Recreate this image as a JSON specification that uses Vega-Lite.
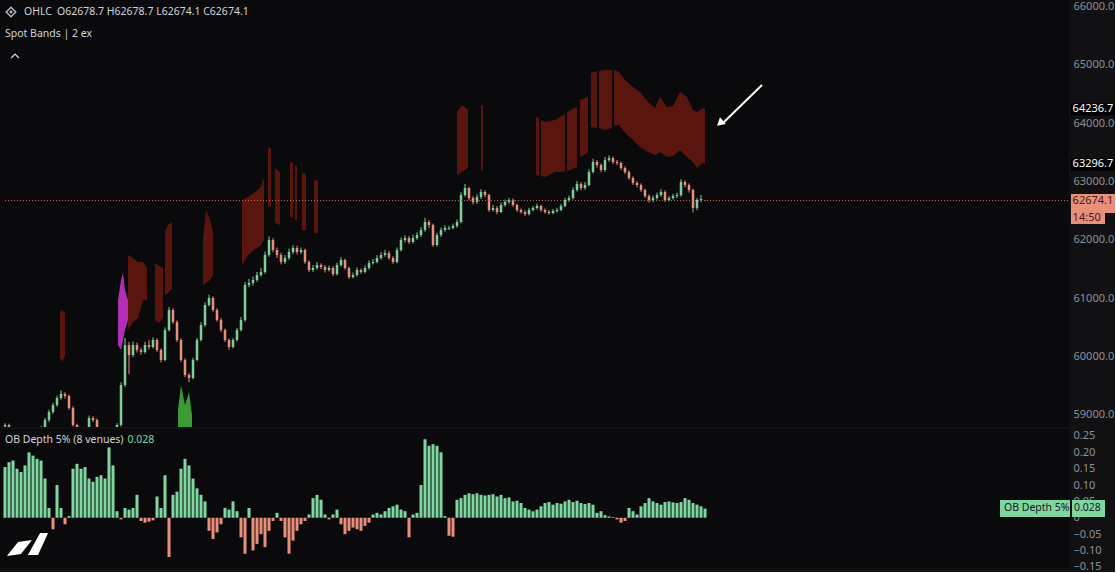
{
"$schema": "https://vega.github.io/schema/vega-lite/v6.json",
"background": "#111114",
"padding": 0,
"spacing": 2,
"config": {
  "view": {"stroke": null, "fill": "#0a0a0c"},
  "axisX": {"disable": true},
  "axis": {"domain": false, "ticks": false, "grid": false, "labelColor": "#909094", "labelFont": "Noto Sans", "labelFontSize": 11, "labelPadding": 4, "labelOverlap": false, "labelSeparation": 0, "title": null, "labelLimit": 50}
},
"datasets": {
"one": [{}],
"ohlc": [
{"t":0,"o":58800,"h":58860,"l":58780,"c":58828},
{"t":1,"o":58828,"h":58850,"l":58540,"c":58571},
{"t":2,"o":58571,"h":58600,"l":58370,"c":58399},
{"t":3,"o":58399,"h":58420,"l":58290,"c":58314},
{"t":4,"o":58314,"h":58390,"l":58290,"c":58365},
{"t":5,"o":58365,"h":58460,"l":58340,"c":58433},
{"t":6,"o":58433,"h":58510,"l":58410,"c":58485},
{"t":7,"o":58485,"h":58600,"l":58460,"c":58571},
{"t":8,"o":58571,"h":58690,"l":58550,"c":58656},
{"t":9,"o":58656,"h":58810,"l":58630,"c":58776},
{"t":10,"o":58776,"h":58950,"l":58750,"c":58914},
{"t":11,"o":58914,"h":59090,"l":58880,"c":59050},
{"t":12,"o":59050,"h":59210,"l":59020,"c":59170},
{"t":13,"o":59170,"h":59330,"l":59140,"c":59290},
{"t":14,"o":59290,"h":59420,"l":59260,"c":59359},
{"t":15,"o":59359,"h":59390,"l":59280,"c":59325},
{"t":16,"o":59325,"h":59350,"l":59090,"c":59119},
{"t":17,"o":59119,"h":59150,"l":58800,"c":58828},
{"t":18,"o":58828,"h":58850,"l":58620,"c":58656},
{"t":19,"o":58656,"h":58690,"l":58540,"c":58571},
{"t":20,"o":58571,"h":58770,"l":58550,"c":58742},
{"t":21,"o":58742,"h":58990,"l":58720,"c":58948},
{"t":22,"o":58948,"h":58980,"l":58880,"c":58914},
{"t":23,"o":58914,"h":58940,"l":58710,"c":58742},
{"t":24,"o":58742,"h":58760,"l":58460,"c":58485},
{"t":25,"o":58485,"h":58510,"l":58370,"c":58399},
{"t":26,"o":58399,"h":58460,"l":58380,"c":58433},
{"t":27,"o":58433,"h":58600,"l":58410,"c":58571},
{"t":28,"o":58571,"h":58860,"l":58550,"c":58828},
{"t":29,"o":58828,"h":59560,"l":58800,"c":59513},
{"t":30,"o":59513,"h":60320,"l":59480,"c":60198},
{"t":31,"o":60198,"h":60250,"l":59700,"c":60027},
{"t":32,"o":60027,"h":60260,"l":59990,"c":60198},
{"t":33,"o":60198,"h":60240,"l":60070,"c":60113},
{"t":34,"o":60113,"h":60150,"l":60030,"c":60079},
{"t":35,"o":60079,"h":60250,"l":60050,"c":60198},
{"t":36,"o":60198,"h":60280,"l":60120,"c":60164},
{"t":37,"o":60164,"h":60330,"l":60140,"c":60284},
{"t":38,"o":60284,"h":60310,"l":60080,"c":60113},
{"t":39,"o":60113,"h":60140,"l":59900,"c":59942},
{"t":40,"o":59942,"h":60500,"l":59920,"c":60456},
{"t":41,"o":60456,"h":60850,"l":60430,"c":60799},
{"t":42,"o":60799,"h":60830,"l":60560,"c":60593},
{"t":43,"o":60593,"h":60620,"l":60250,"c":60284},
{"t":44,"o":60284,"h":60310,"l":59910,"c":59942},
{"t":45,"o":59942,"h":59970,"l":59650,"c":59685},
{"t":46,"o":59685,"h":59720,"l":59560,"c":59633},
{"t":47,"o":59633,"h":59980,"l":59610,"c":59942},
{"t":48,"o":59942,"h":60320,"l":59920,"c":60284},
{"t":49,"o":60284,"h":60590,"l":60260,"c":60541},
{"t":50,"o":60541,"h":60930,"l":60510,"c":60884},
{"t":51,"o":60884,"h":61060,"l":60860,"c":61004},
{"t":52,"o":61004,"h":61030,"l":60770,"c":60799},
{"t":53,"o":60799,"h":60830,"l":60600,"c":60627},
{"t":54,"o":60627,"h":60660,"l":60420,"c":60456},
{"t":55,"o":60456,"h":60480,"l":60250,"c":60284},
{"t":56,"o":60284,"h":60310,"l":60120,"c":60164},
{"t":57,"o":60164,"h":60320,"l":60140,"c":60284},
{"t":58,"o":60284,"h":60490,"l":60260,"c":60456},
{"t":59,"o":60456,"h":60680,"l":60430,"c":60627},
{"t":60,"o":60627,"h":61280,"l":60600,"c":61227},
{"t":61,"o":61227,"h":61330,"l":61190,"c":61261},
{"t":62,"o":61261,"h":61370,"l":61220,"c":61313},
{"t":63,"o":61313,"h":61450,"l":61280,"c":61398},
{"t":64,"o":61398,"h":61520,"l":61370,"c":61450},
{"t":65,"o":61450,"h":61800,"l":61420,"c":61741},
{"t":66,"o":61741,"h":62060,"l":61710,"c":61998},
{"t":67,"o":61998,"h":62030,"l":61790,"c":61827},
{"t":68,"o":61827,"h":61870,"l":61690,"c":61741},
{"t":69,"o":61741,"h":61780,"l":61580,"c":61621},
{"t":70,"o":61621,"h":61740,"l":61590,"c":61690},
{"t":71,"o":61690,"h":61850,"l":61660,"c":61793},
{"t":72,"o":61793,"h":61910,"l":61760,"c":61861},
{"t":73,"o":61861,"h":61900,"l":61750,"c":61793},
{"t":74,"o":61793,"h":61870,"l":61760,"c":61827},
{"t":75,"o":61827,"h":61850,"l":61590,"c":61621},
{"t":76,"o":61621,"h":61650,"l":61450,"c":61484},
{"t":77,"o":61484,"h":61570,"l":61450,"c":61518},
{"t":78,"o":61518,"h":61620,"l":61490,"c":61570},
{"t":79,"o":61570,"h":61600,"l":61500,"c":61535},
{"t":80,"o":61535,"h":61570,"l":61440,"c":61484},
{"t":81,"o":61484,"h":61560,"l":61460,"c":61518},
{"t":82,"o":61518,"h":61550,"l":61380,"c":61415},
{"t":83,"o":61415,"h":61610,"l":61390,"c":61570},
{"t":84,"o":61570,"h":61700,"l":61540,"c":61655},
{"t":85,"o":61655,"h":61680,"l":61490,"c":61518},
{"t":86,"o":61518,"h":61540,"l":61330,"c":61364},
{"t":87,"o":61364,"h":61440,"l":61340,"c":61398},
{"t":88,"o":61398,"h":61530,"l":61370,"c":61484},
{"t":89,"o":61484,"h":61510,"l":61420,"c":61450},
{"t":90,"o":61450,"h":61560,"l":61430,"c":61518},
{"t":91,"o":61518,"h":61650,"l":61490,"c":61604},
{"t":92,"o":61604,"h":61670,"l":61580,"c":61621},
{"t":93,"o":61621,"h":61740,"l":61600,"c":61690},
{"t":94,"o":61690,"h":61790,"l":61660,"c":61741},
{"t":95,"o":61741,"h":61830,"l":61710,"c":61775},
{"t":96,"o":61775,"h":61810,"l":61660,"c":61690},
{"t":97,"o":61690,"h":61720,"l":61590,"c":61621},
{"t":98,"o":61621,"h":61870,"l":61600,"c":61827},
{"t":99,"o":61827,"h":62040,"l":61800,"c":61998},
{"t":100,"o":61998,"h":62080,"l":61960,"c":62032},
{"t":101,"o":62032,"h":62070,"l":61930,"c":61964},
{"t":102,"o":61964,"h":62090,"l":61940,"c":62032},
{"t":103,"o":62032,"h":62130,"l":62000,"c":62084},
{"t":104,"o":62084,"h":62220,"l":62050,"c":62170},
{"t":105,"o":62170,"h":62380,"l":62140,"c":62307},
{"t":106,"o":62307,"h":62340,"l":62200,"c":62255},
{"t":107,"o":62255,"h":62280,"l":61880,"c":61913},
{"t":108,"o":61913,"h":62120,"l":61890,"c":62084},
{"t":109,"o":62084,"h":62210,"l":62050,"c":62170},
{"t":110,"o":62170,"h":62250,"l":62140,"c":62204},
{"t":111,"o":62190,"h":62240,"l":62170,"c":62204},
{"t":112,"o":62204,"h":62280,"l":62180,"c":62238},
{"t":113,"o":62238,"h":62350,"l":62210,"c":62307},
{"t":114,"o":62307,"h":62820,"l":62280,"c":62769},
{"t":115,"o":62769,"h":62960,"l":62740,"c":62889},
{"t":116,"o":62889,"h":62910,"l":62680,"c":62718},
{"t":117,"o":62718,"h":62750,"l":62610,"c":62649},
{"t":118,"o":62649,"h":62780,"l":62620,"c":62735},
{"t":119,"o":62735,"h":62870,"l":62700,"c":62821},
{"t":120,"o":62821,"h":62850,"l":62730,"c":62769},
{"t":121,"o":62769,"h":62790,"l":62480,"c":62512},
{"t":122,"o":62512,"h":62600,"l":62490,"c":62546},
{"t":123,"o":62546,"h":62580,"l":62440,"c":62478},
{"t":124,"o":62478,"h":62640,"l":62460,"c":62598},
{"t":125,"o":62598,"h":62690,"l":62570,"c":62649},
{"t":126,"o":62649,"h":62720,"l":62620,"c":62684},
{"t":127,"o":62684,"h":62710,"l":62570,"c":62598},
{"t":128,"o":62598,"h":62620,"l":62480,"c":62512},
{"t":129,"o":62512,"h":62540,"l":62450,"c":62478},
{"t":130,"o":62478,"h":62510,"l":62410,"c":62444},
{"t":131,"o":62444,"h":62550,"l":62420,"c":62512},
{"t":132,"o":62512,"h":62580,"l":62490,"c":62546},
{"t":133,"o":62546,"h":62620,"l":62520,"c":62581},
{"t":134,"o":62581,"h":62600,"l":62480,"c":62512},
{"t":135,"o":62512,"h":62540,"l":62450,"c":62478},
{"t":136,"o":62478,"h":62510,"l":62430,"c":62461},
{"t":137,"o":62461,"h":62530,"l":62440,"c":62495},
{"t":138,"o":62495,"h":62550,"l":62470,"c":62512},
{"t":139,"o":62512,"h":62620,"l":62490,"c":62581},
{"t":140,"o":62581,"h":62720,"l":62560,"c":62684},
{"t":141,"o":62684,"h":62760,"l":62650,"c":62718},
{"t":142,"o":62718,"h":62900,"l":62690,"c":62855},
{"t":143,"o":62855,"h":63010,"l":62830,"c":62958},
{"t":144,"o":62958,"h":62990,"l":62850,"c":62889},
{"t":145,"o":62889,"h":62990,"l":62860,"c":62941},
{"t":146,"o":62941,"h":63210,"l":62920,"c":63163},
{"t":147,"o":63163,"h":63390,"l":63140,"c":63335},
{"t":148,"o":63335,"h":63370,"l":63240,"c":63283},
{"t":149,"o":63283,"h":63310,"l":63160,"c":63198},
{"t":150,"o":63198,"h":63420,"l":63170,"c":63369},
{"t":151,"o":63369,"h":63450,"l":63340,"c":63403},
{"t":152,"o":63403,"h":63430,"l":63300,"c":63335},
{"t":153,"o":63335,"h":63370,"l":63280,"c":63318},
{"t":154,"o":63318,"h":63340,"l":63200,"c":63232},
{"t":155,"o":63232,"h":63260,"l":63130,"c":63163},
{"t":156,"o":63163,"h":63190,"l":63030,"c":63061},
{"t":157,"o":63061,"h":63090,"l":62940,"c":62975},
{"t":158,"o":62975,"h":63010,"l":62900,"c":62941},
{"t":159,"o":62941,"h":62970,"l":62820,"c":62855},
{"t":160,"o":62855,"h":62880,"l":62720,"c":62752},
{"t":161,"o":62752,"h":62780,"l":62640,"c":62684},
{"t":162,"o":62684,"h":62760,"l":62650,"c":62718},
{"t":163,"o":62718,"h":62810,"l":62690,"c":62769},
{"t":164,"o":62769,"h":62870,"l":62740,"c":62821},
{"t":165,"o":62821,"h":62850,"l":62650,"c":62684},
{"t":166,"o":62684,"h":62750,"l":62660,"c":62718},
{"t":167,"o":62718,"h":62790,"l":62690,"c":62752},
{"t":168,"o":62752,"h":62810,"l":62720,"c":62769},
{"t":169,"o":62769,"h":63040,"l":62740,"c":62992},
{"t":170,"o":62992,"h":63020,"l":62900,"c":62941},
{"t":171,"o":62941,"h":62970,"l":62810,"c":62855},
{"t":172,"o":62855,"h":62880,"l":62470,"c":62546},
{"t":173,"o":62546,"h":62720,"l":62510,"c":62684},
{"t":174,"o":62684,"h":62770,"l":62650,"c":62700},
{"t":175,"o":62678.7,"h":62678.7,"l":62674.1,"c":62674.1}
],
"bands": [
{"s":"r1","k":"red","t":13.75,"hi":60764,"lo":59976},
{"s":"r1","k":"red","t":14.25,"hi":60799,"lo":59907},
{"s":"r1","k":"red","t":15,"hi":60747,"lo":60010},
{"s":"m1","k":"magenta","t":28.25,"hi":60970,"lo":60199},
{"s":"m1","k":"magenta","t":29,"hi":61313,"lo":60113},
{"s":"m1","k":"magenta","t":29.5,"hi":61433,"lo":60284},
{"s":"m1","k":"magenta","t":30,"hi":61141,"lo":60456},
{"s":"m1","k":"magenta","t":30.75,"hi":60970,"lo":60627},
{"s":"r2","k":"red","t":30.75,"hi":61741,"lo":60456},
{"s":"r2","k":"red","t":32,"hi":61690,"lo":60593},
{"s":"r2","k":"red","t":33.25,"hi":61621,"lo":60662},
{"s":"r2","k":"red","t":34.5,"hi":61621,"lo":60970},
{"s":"r2","k":"red","t":35.5,"hi":61518,"lo":60970},
{"s":"r3","k":"red","t":37.5,"hi":61604,"lo":60627},
{"s":"r3","k":"red","t":38.5,"hi":61553,"lo":60576},
{"s":"r3","k":"red","t":39.5,"hi":61518,"lo":60662},
{"s":"r4","k":"red","t":40,"hi":62135,"lo":61056},
{"s":"r4","k":"red","t":40.75,"hi":62255,"lo":61090},
{"s":"r4","k":"red","t":41.75,"hi":62307,"lo":61176},
{"s":"g1","k":"green","t":43.25,"hi":59085,"lo":58600},
{"s":"g1","k":"green","t":44,"hi":59513,"lo":58600},
{"s":"g1","k":"green","t":45,"hi":59171,"lo":58600},
{"s":"g1","k":"green","t":46,"hi":59393,"lo":58600},
{"s":"g1","k":"green","t":46.75,"hi":58999,"lo":58600},
{"s":"r5","k":"red","t":49.5,"hi":61998,"lo":61227},
{"s":"r5","k":"red","t":50.25,"hi":62512,"lo":61261},
{"s":"r5","k":"red","t":51.25,"hi":62341,"lo":61313},
{"s":"r5","k":"red","t":52,"hi":62135,"lo":61398},
{"s":"r6","k":"red","t":59.25,"hi":62684,"lo":61570},
{"s":"r6","k":"red","t":60.75,"hi":62735,"lo":61741},
{"s":"r6","k":"red","t":62.25,"hi":62804,"lo":61827},
{"s":"r6","k":"red","t":63.75,"hi":62889,"lo":61896},
{"s":"r6","k":"red","t":64.75,"hi":63061,"lo":61998},
{"s":"r7","k":"red","t":65.75,"hi":63592,"lo":62564},
{"s":"r7","k":"red","t":66.5,"hi":63560,"lo":62580},
{"s":"r8","k":"red","t":67.5,"hi":63232,"lo":62290},
{"s":"r8","k":"red","t":68.75,"hi":63164,"lo":62255},
{"s":"r9","k":"red","t":71.25,"hi":63335,"lo":62393},
{"s":"r9","k":"red","t":72,"hi":63318,"lo":62380},
{"s":"r10","k":"red","t":72.5,"hi":63284,"lo":62341},
{"s":"r10","k":"red","t":73,"hi":63270,"lo":62330},
{"s":"r11","k":"red","t":74.25,"hi":63147,"lo":62170},
{"s":"r11","k":"red","t":75.25,"hi":63130,"lo":62160},
{"s":"r12","k":"red","t":77.25,"hi":63027,"lo":62118},
{"s":"r12","k":"red","t":78.25,"hi":63010,"lo":62110},
{"s":"r13","k":"red","t":113,"hi":64192,"lo":63112},
{"s":"r13","k":"red","t":114.25,"hi":64312,"lo":63164},
{"s":"r13","k":"red","t":115.75,"hi":64226,"lo":63232},
{"s":"r14","k":"red","t":119,"hi":64312,"lo":63198},
{"s":"r14","k":"red","t":119.5,"hi":64300,"lo":63190},
{"s":"r15a","k":"red","t":132.75,"hi":64106,"lo":63112},
{"s":"r15a","k":"red","t":133.5,"hi":64090,"lo":63100},
{"s":"r15b","k":"red","t":134,"hi":64060,"lo":63095},
{"s":"r15b","k":"red","t":135,"hi":64021,"lo":63078},
{"s":"r15b","k":"red","t":137.5,"hi":64055,"lo":63164},
{"s":"r15b","k":"red","t":140,"hi":64160,"lo":63170},
{"s":"r15c","k":"red","t":140.5,"hi":64180,"lo":63180},
{"s":"r15c","k":"red","t":141.25,"hi":64226,"lo":63198},
{"s":"r15c","k":"red","t":143,"hi":64278,"lo":63249},
{"s":"r16","k":"red","t":143.75,"hi":64398,"lo":63421},
{"s":"r16","k":"red","t":145.75,"hi":64449,"lo":63489},
{"s":"r17a","k":"red","t":146.5,"hi":64860,"lo":63935},
{"s":"r17a","k":"red","t":148,"hi":64895,"lo":63918},
{"s":"r17b","k":"red","t":148.5,"hi":64895,"lo":63918},
{"s":"r17b","k":"red","t":150,"hi":64912,"lo":63883},
{"s":"r17b","k":"red","t":151.75,"hi":64912,"lo":63918},
{"s":"r17c","k":"red","t":152.25,"hi":64912,"lo":63952},
{"s":"r17c","k":"red","t":153.5,"hi":64877,"lo":63969},
{"s":"r17c","k":"red","t":155,"hi":64740,"lo":63832},
{"s":"r17c","k":"red","t":157,"hi":64620,"lo":63712},
{"s":"r17c","k":"red","t":158.75,"hi":64535,"lo":63592},
{"s":"r17c","k":"red","t":160.75,"hi":64363,"lo":63507},
{"s":"r17c","k":"red","t":162.5,"hi":64260,"lo":63455},
{"s":"r17c","k":"red","t":163.75,"hi":64449,"lo":63507},
{"s":"r17c","k":"red","t":165.5,"hi":64278,"lo":63421},
{"s":"r17c","k":"red","t":167,"hi":64295,"lo":63438},
{"s":"r17c","k":"red","t":168.75,"hi":64535,"lo":63541},
{"s":"r17c","k":"red","t":170.5,"hi":64449,"lo":63421},
{"s":"r17c","k":"red","t":172,"hi":64226,"lo":63335},
{"s":"r17c","k":"red","t":173,"hi":64192,"lo":63232},
{"s":"r17c","k":"red","t":174.5,"hi":64260,"lo":63318},
{"s":"r17c","k":"red","t":175,"hi":64236.75,"lo":63296.7}
],
"depth": [
{"t":0,"v":0.155},{"t":1,"v":0.17},{"t":2,"v":0.175},{"t":3,"v":0.15},{"t":4,"v":0.14},
{"t":5,"v":0.16},{"t":6,"v":0.2},{"t":7,"v":0.19},{"t":8,"v":0.18},{"t":9,"v":0.175},
{"t":10,"v":0.12},{"t":11,"v":0.03},{"t":12,"v":-0.035},{"t":13,"v":0.1},{"t":14,"v":0.03},
{"t":15,"v":-0.02},{"t":16,"v":0.005},{"t":17,"v":0.15},{"t":18,"v":0.165},{"t":19,"v":0.15},
{"t":20,"v":0.155},{"t":21,"v":0.12},{"t":22,"v":0.11},{"t":23,"v":0.125},{"t":24,"v":0.13},
{"t":25,"v":0.12},{"t":26,"v":0.215},{"t":27,"v":0.16},{"t":28,"v":0.02},{"t":29,"v":-0.005},
{"t":30,"v":0.03},{"t":31,"v":0.025},{"t":32,"v":0.03},{"t":33,"v":0.07},{"t":34,"v":-0.01},
{"t":35,"v":-0.015},{"t":36,"v":-0.012},{"t":37,"v":-0.008},{"t":38,"v":0.065},{"t":39,"v":0.03},
{"t":40,"v":0.13},{"t":41,"v":-0.12},{"t":42,"v":0.07},{"t":43,"v":0.08},{"t":44,"v":0.15},
{"t":45,"v":0.18},{"t":46,"v":0.16},{"t":47,"v":0.12},{"t":48,"v":0.09},{"t":49,"v":0.07},
{"t":50,"v":0.05},{"t":51,"v":-0.04},{"t":52,"v":-0.065},{"t":53,"v":-0.045},{"t":54,"v":-0.02},
{"t":55,"v":0.03},{"t":56,"v":0.025},{"t":57,"v":0.05},{"t":58,"v":0.02},{"t":59,"v":-0.06},
{"t":60,"v":-0.11},{"t":61,"v":0.03},{"t":62,"v":-0.1},{"t":63,"v":-0.08},{"t":64,"v":-0.05},
{"t":65,"v":-0.09},{"t":66,"v":-0.04},{"t":67,"v":-0.01},{"t":68,"v":0.015},{"t":69,"v":-0.01},
{"t":70,"v":-0.06},{"t":71,"v":-0.11},{"t":72,"v":-0.07},{"t":73,"v":-0.04},{"t":74,"v":-0.02},
{"t":75,"v":-0.01},{"t":76,"v":0.01},{"t":77,"v":0.06},{"t":78,"v":0.07},{"t":79,"v":0.055},
{"t":80,"v":0.01},{"t":81,"v":-0.005},{"t":82,"v":0.01},{"t":83,"v":0.025},{"t":84,"v":-0.02},
{"t":85,"v":-0.05},{"t":86,"v":-0.04},{"t":87,"v":-0.03},{"t":88,"v":-0.035},{"t":89,"v":-0.04},
{"t":90,"v":-0.025},{"t":91,"v":-0.015},{"t":92,"v":0.01},{"t":93,"v":0.015},{"t":94,"v":0.01},
{"t":95,"v":0.02},{"t":96,"v":0.03},{"t":97,"v":0.035},{"t":98,"v":0.04},{"t":99,"v":0.025},
{"t":100,"v":0.02},{"t":101,"v":-0.06},{"t":102,"v":0.01},{"t":103,"v":0.015},{"t":104,"v":0.1},
{"t":105,"v":0.24},{"t":106,"v":0.22},{"t":107,"v":0.225},{"t":108,"v":0.22},{"t":109,"v":0.2},
{"t":110,"v":0.005},{"t":111,"v":-0.055},{"t":112,"v":-0.058},{"t":113,"v":0.055},{"t":114,"v":0.06},
{"t":115,"v":0.07},{"t":116,"v":0.075},{"t":117,"v":0.072},{"t":118,"v":0.075},{"t":119,"v":0.07},
{"t":120,"v":0.068},{"t":121,"v":0.07},{"t":122,"v":0.072},{"t":123,"v":0.065},{"t":124,"v":0.07},
{"t":125,"v":0.06},{"t":126,"v":0.062},{"t":127,"v":0.05},{"t":128,"v":0.052},{"t":129,"v":0.045},
{"t":130,"v":0.03},{"t":131,"v":0.025},{"t":132,"v":0.02},{"t":133,"v":0.025},{"t":134,"v":0.035},
{"t":135,"v":0.045},{"t":136,"v":0.048},{"t":137,"v":0.04},{"t":138,"v":0.045},{"t":139,"v":0.043},
{"t":140,"v":0.05},{"t":141,"v":0.055},{"t":142,"v":0.048},{"t":143,"v":0.052},{"t":144,"v":0.045},
{"t":145,"v":0.042},{"t":146,"v":0.045},{"t":147,"v":0.04},{"t":148,"v":0.015},{"t":149,"v":0.02},
{"t":150,"v":0.008},{"t":151,"v":0.004},{"t":152,"v":0.002},{"t":153,"v":-0.005},{"t":154,"v":-0.015},
{"t":155,"v":-0.01},{"t":156,"v":0.03},{"t":157,"v":0.02},{"t":158,"v":0.01},{"t":159,"v":0.035},
{"t":160,"v":0.045},{"t":161,"v":0.06},{"t":162,"v":0.05},{"t":163,"v":0.045},{"t":164,"v":0.04},
{"t":165,"v":0.048},{"t":166,"v":0.05},{"t":167,"v":0.047},{"t":168,"v":0.045},{"t":169,"v":0.048},
{"t":170,"v":0.06},{"t":171,"v":0.055},{"t":172,"v":0.045},{"t":173,"v":0.04},{"t":174,"v":0.035},
{"t":175,"v":0.028}
]
},
"vconcat": [
{
"width": 1069,
"height": 427,
"layer": [
{
 "data": {"name": "bands"},
 "mark": {"type": "area", "clip": true, "opacity": 1},
 "encoding": {
  "x": {"field": "t", "type": "quantitative", "scale": {"domain": [-1.25, 266], "nice": false, "zero": false, "padding": 0}},
  "y": {"field": "hi", "type": "quantitative", "scale": {"domain": [58793.5, 66111.4], "nice": false, "zero": false},
        "axis": {"orient": "right", "values": [59000,60000,61000,62000,63000,64000,65000,66000], "format": ".1f", "labelOverlap": false}},
  "y2": {"field": "lo"},
  "detail": {"field": "s"},
  "color": {"field": "k", "type": "nominal", "legend": null,
            "scale": {"domain": ["red","magenta","green"], "range": ["#5b150f","#b02fb5","#3c9a36"]}}
 }
},
{
 "data": {"name": "ohlc"},
 "mark": {"type": "rule", "clip": true, "strokeWidth": 1},
 "encoding": {
  "x": {"field": "t", "type": "quantitative"},
  "y": {"field": "l", "type": "quantitative"},
  "y2": {"field": "h"},
  "color": {"condition": {"test": "datum.c >= datum.o", "value": "#7ccf9b"}, "value": "#e8907c"}
 }
},
{
 "data": {"name": "ohlc"},
 "mark": {"type": "bar", "clip": true, "size": 2.5},
 "encoding": {
  "x": {"field": "t", "type": "quantitative"},
  "y": {"field": "o", "type": "quantitative"},
  "y2": {"field": "c"},
  "color": {"condition": {"test": "datum.c >= datum.o", "value": "#7ccf9b"}, "value": "#e8907c"}
 }
},
{
 "data": {"name": "one"},
 "mark": {"type": "rule", "color": "#c0705f", "strokeWidth": 1, "strokeDash": [1, 2]},
 "encoding": {"x": {"datum": 0}, "x2": {"datum": 266}, "y": {"datum": 62674.1}}
},
{
 "data": {"name": "one"},
 "mark": {"type": "rule", "color": "#ffffff", "strokeWidth": 2},
 "encoding": {"x": {"datum": 189.25}, "y": {"datum": 64655}, "x2": {"datum": 179.5}, "y2": {"datum": 64003}}
},
{
 "data": {"name": "one"},
 "mark": {"type": "point", "shape": "triangle-up", "filled": true, "color": "#ffffff", "size": 80, "angle": 229, "opacity": 1},
 "encoding": {"x": {"datum": 178.75}, "y": {"datum": 64000}}
},
{
 "data": {"name": "one"},
 "mark": {"type": "point", "shape": "diamond", "filled": false, "color": "#b8b8bc", "strokeWidth": 1.5, "size": 90, "opacity": 1},
 "encoding": {"x": {"datum": 1.5}, "y": {"datum": 65906}}
},
{
 "data": {"name": "one"},
 "mark": {"type": "point", "shape": "diamond", "filled": true, "color": "#b8b8bc", "size": 14, "opacity": 1},
 "encoding": {"x": {"datum": 1.5}, "y": {"datum": 65906}}
},
{
 "data": {"name": "one"},
 "mark": {"type": "text", "text": "OHLC", "align": "left", "baseline": "middle", "font": "Noto Sans", "fontSize": 10.5, "color": "#d1d4dc"},
 "encoding": {"x": {"datum": 4.75}, "y": {"datum": 65906}}
},
{
 "data": {"name": "one"},
 "mark": {"type": "text", "text": "O62678.7 H62678.7 L62674.1 C62674.1", "align": "left", "baseline": "middle", "font": "Noto Sans", "fontSize": 10.5, "color": "#d1d4dc"},
 "encoding": {"x": {"datum": 13}, "y": {"datum": 65906}}
},
{
 "data": {"name": "one"},
 "mark": {"type": "text", "text": "Spot Bands | 2 ex", "align": "left", "baseline": "middle", "font": "Noto Sans", "fontSize": 10.5, "color": "#d1d4dc"},
 "encoding": {"x": {"datum": 0}, "y": {"datum": 65529}}
},
{
 "data": {"name": "one"},
 "mark": {"type": "point", "shape": "M-1,0.5L0,-0.5L1,0.5", "filled": false, "color": "#d1d4dc", "strokeWidth": 1.3, "size": 60, "opacity": 1},
 "encoding": {"x": {"datum": 2.5}, "y": {"datum": 65152}}
},
{
 "data": {"name": "one"},
 "mark": {"type": "rect", "color": "#000000"},
 "encoding": {"x": {"datum": 266.5}, "x2": {"datum": 277.5}, "y": {"datum": 64337}, "y2": {"datum": 64131}}
},
{
 "data": {"name": "one"},
 "mark": {"type": "text", "text": "64236.75", "align": "left", "baseline": "middle", "font": "Noto Sans", "fontSize": 11, "color": "#ffffff", "limit": 44, "ellipsis": "\u200b"},
 "encoding": {"x": {"datum": 266.9}, "y": {"datum": 64236.75}}
},
{
 "data": {"name": "one"},
 "mark": {"type": "rect", "color": "#000000"},
 "encoding": {"x": {"datum": 266.5}, "x2": {"datum": 277.5}, "y": {"datum": 63400}, "y2": {"datum": 63190}}
},
{
 "data": {"name": "one"},
 "mark": {"type": "text", "text": "63296.70", "align": "left", "baseline": "middle", "font": "Noto Sans", "fontSize": 11, "color": "#ffffff", "limit": 44, "ellipsis": "\u200b"},
 "encoding": {"x": {"datum": 266.9}, "y": {"datum": 63296.7}}
},
{
 "data": {"name": "one"},
 "mark": {"type": "rect", "color": "#e8907c"},
 "encoding": {"x": {"datum": 266.5}, "x2": {"datum": 277.5}, "y": {"datum": 62787}, "y2": {"datum": 62461}}
},
{
 "data": {"name": "one"},
 "mark": {"type": "rect", "color": "#e8907c"},
 "encoding": {"x": {"datum": 266.5}, "x2": {"datum": 275}, "y": {"datum": 62461}, "y2": {"datum": 62272}}
},
{
 "data": {"name": "one"},
 "mark": {"type": "text", "text": "62674.1", "align": "left", "baseline": "middle", "font": "Noto Sans", "fontSize": 11, "color": "#4a1510"},
 "encoding": {"x": {"datum": 266.9}, "y": {"datum": 62674.1}}
},
{
 "data": {"name": "one"},
 "mark": {"type": "text", "text": "14:50", "align": "left", "baseline": "middle", "font": "Noto Sans", "fontSize": 11, "color": "#4a1510"},
 "encoding": {"x": {"datum": 266.9}, "y": {"datum": 62375}}
}
]
},
{
"width": 1069,
"height": 139,
"layer": [
{
 "data": {"name": "depth"},
 "mark": {"type": "bar", "size": 3},
 "encoding": {
  "x": {"field": "t", "type": "quantitative", "scale": {"domain": [-1.25, 266], "nice": false, "zero": false, "padding": 0}},
  "y": {"field": "v", "type": "quantitative", "scale": {"domain": [-0.1537, 0.2714], "nice": false, "zero": false},
        "axis": {"orient": "right", "tickCount": 9, "labelOverlap": false, "labelSeparation": 0, "labelBound": false,
                 "labelExpr": "abs(datum.value) < 0.001 ? '0' : format(datum.value, '.2f')"}},
  "color": {"condition": {"test": "datum.v >= 0", "value": "#7fd6a0"}, "value": "#e8907c"}
 }
},
{
 "data": {"name": "one"},
 "mark": {"type": "text", "text": "OB Depth 5% (8 venues)", "align": "left", "baseline": "middle", "font": "Noto Sans", "fontSize": 10.5, "color": "#d1d4dc"},
 "encoding": {"x": {"datum": 0}, "y": {"datum": 0.2378}}
},
{
 "data": {"name": "one"},
 "mark": {"type": "text", "text": "0.028", "align": "left", "baseline": "middle", "font": "Noto Sans", "fontSize": 10.5, "color": "#7fd6a0"},
 "encoding": {"x": {"datum": 30.6}, "y": {"datum": 0.2378}}
},
{
 "data": {"name": "one"},
 "mark": {"type": "rect", "color": "#7fd6a0"},
 "encoding": {"x": {"datum": 248.75}, "x2": {"datum": 266.25}, "y": {"datum": 0.0543}, "y2": {"datum": 0.0023}}
},
{
 "data": {"name": "one"},
 "mark": {"type": "rect", "color": "#7fd6a0"},
 "encoding": {"x": {"datum": 266.75}, "x2": {"datum": 275}, "y": {"datum": 0.0543}, "y2": {"datum": 0.0023}}
},
{
 "data": {"name": "one"},
 "mark": {"type": "text", "text": "OB Depth 5%", "align": "left", "baseline": "middle", "font": "Noto Sans", "fontSize": 10.5, "color": "#16181d"},
 "encoding": {"x": {"datum": 249.75}, "y": {"datum": 0.0283}}
},
{
 "data": {"name": "one"},
 "mark": {"type": "text", "text": "0.028", "align": "left", "baseline": "middle", "font": "Noto Sans", "fontSize": 10.5, "color": "#16181d"},
 "encoding": {"x": {"datum": 267.25}, "y": {"datum": 0.0283}}
},
{
 "data": {"name": "one"},
 "mark": {"type": "point", "shape": "M-0.98,0.57L-0.45,-0.1L0.21,-0.19L-0.31,0.48Z M0.02,0.52L0.6,-0.52L0.98,-0.52L0.5,0.52Z", "filled": true, "color": "#ffffff", "size": 1764, "opacity": 1},
 "encoding": {"x": {"datum": 5.625}, "y": {"datum": -0.0803}}
}
]
}
]
}
